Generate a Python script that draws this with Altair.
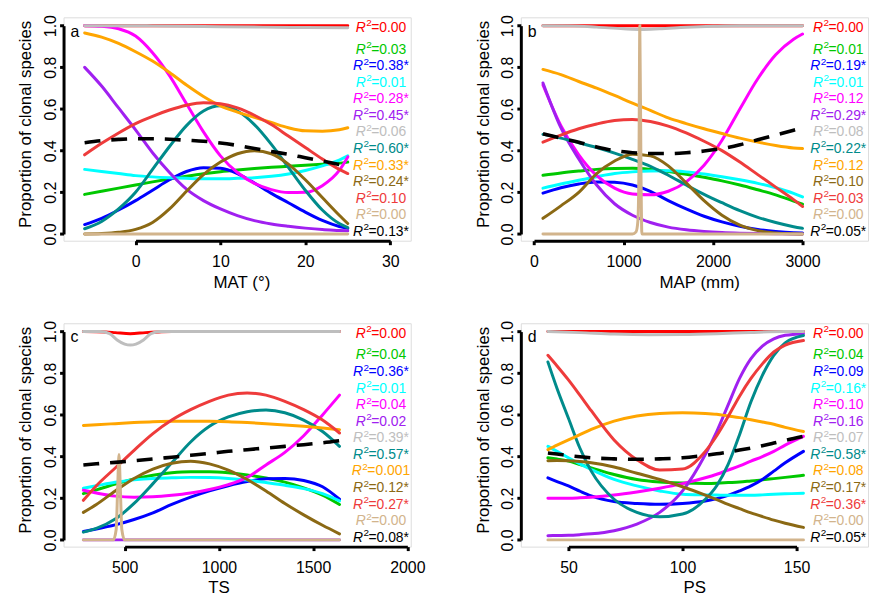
import altair as alt
import pandas as pd

FONT = "Liberation Sans"
PPY = 210.0          # px per unit of proportion
TOPM = 8.4           # px of view above y = 1
BOTM = 6.8           # px of view below y = 0 (x-axis line sits at the view bottom)
H = TOPM + PPY + BOTM
W = 350
AXW = 3              # axis line width

SERIES = [f"s{i:02d}" for i in range(1, 14)]
COLORS = ["#FF0000", "#00C800", "#0000FF", "#00FFFF", "#FF00FF", "#A020F0",
          "#BEBEBE", "#008B8B", "#FFA500", "#8B6914", "#EE3B3B", "#D2B48C", "#000000"]
Y_TICKS = [0.0, 0.2, 0.4, 0.6, 0.8, 1.0]

# ---------------- panel a : MAT ----------------
A_X = [-6, -4, -2, 0, 2, 4, 6, 8, 10, 12, 14, 16, 18, 20, 22, 24, 25]
A_GREEN = [0.19, 0.205, 0.22, 0.235, 0.25, 0.264, 0.277, 0.289, 0.299, 0.307, 0.314, 0.32, 0.325, 0.33, 0.335, 0.34, 0.345]
A_BLUE = [0.045, 0.075, 0.115, 0.16, 0.21, 0.26, 0.30, 0.318, 0.315, 0.29, 0.245, 0.195, 0.15, 0.105, 0.065, 0.036, 0.027]
A_CYAN = [0.31, 0.30, 0.29, 0.28, 0.274, 0.27, 0.267, 0.265, 0.265, 0.267, 0.27, 0.277, 0.288, 0.305, 0.327, 0.355, 0.375]
A_MAGENTA = [1.0, 0.997, 0.985, 0.95, 0.87, 0.76, 0.625, 0.49, 0.375, 0.295, 0.243, 0.213, 0.199, 0.2, 0.232, 0.305, 0.37]
A_PURPLE = [0.80, 0.71, 0.605, 0.50, 0.39, 0.295, 0.215, 0.16, 0.12, 0.088, 0.064, 0.048, 0.037, 0.028, 0.021, 0.017, 0.015]
A_TEAL = [0.025, 0.06, 0.12, 0.2, 0.31, 0.42, 0.52, 0.59, 0.615, 0.59, 0.525, 0.43, 0.32, 0.21, 0.115, 0.05, 0.03]
A_ORANGE = [0.965, 0.945, 0.915, 0.875, 0.83, 0.775, 0.715, 0.66, 0.615, 0.585, 0.56, 0.535, 0.51, 0.495, 0.493, 0.5, 0.51]
A_BROWN = [0.0, 0.002, 0.008, 0.022, 0.055, 0.12, 0.205, 0.285, 0.345, 0.385, 0.40, 0.385, 0.335, 0.26, 0.175, 0.09, 0.05]
A_RED2 = [0.38, 0.435, 0.485, 0.53, 0.565, 0.595, 0.618, 0.63, 0.625, 0.605, 0.57, 0.525, 0.47, 0.415, 0.36, 0.31, 0.29]
A_BLACK = [0.438, 0.448, 0.454, 0.457, 0.457, 0.455, 0.45, 0.445, 0.437, 0.425, 0.41, 0.396, 0.382, 0.366, 0.35, 0.334, 0.326]
A_TOP_X = [-6, 25]
A_TOP = [1.0, 1.0]
A_GRAY_X = [-6, 0, 2, 6, 10, 15, 20, 25]
A_GRAY = [1.0, 1.0, 0.999, 0.997, 0.995, 0.993, 0.991, 0.99]
A_TAN_X = [-6, 25]
A_TAN = [0.0, 0.0]
A_R2 = ["0.00", "0.03", "0.38*", "0.01", "0.28*", "0.45*", "0.06", "0.60*", "0.33*", "0.24*", "0.10", "0.00", "0.13*"]

# ---------------- panel b : MAP ----------------
B_X = [100, 300, 500, 700, 900, 1100, 1300, 1500, 1700, 1900, 2100, 2300, 2500, 2700, 2900, 3000]
B_GREEN = [0.282, 0.293, 0.302, 0.31, 0.314, 0.315, 0.31, 0.30, 0.287, 0.272, 0.255, 0.235, 0.212, 0.188, 0.158, 0.143]
B_BLUE = [0.196, 0.222, 0.24, 0.25, 0.248, 0.235, 0.205, 0.16, 0.12, 0.085, 0.058, 0.037, 0.022, 0.012, 0.006, 0.005]
B_CYAN = [0.22, 0.24, 0.258, 0.275, 0.29, 0.298, 0.302, 0.303, 0.298, 0.288, 0.275, 0.26, 0.243, 0.222, 0.195, 0.178]
B_MAGENTA = [0.715, 0.52, 0.38, 0.28, 0.22, 0.192, 0.188, 0.205, 0.25, 0.33, 0.45, 0.6, 0.745, 0.86, 0.935, 0.96]
B_PURPLE = [0.725, 0.51, 0.36, 0.235, 0.145, 0.09, 0.055, 0.033, 0.02, 0.012, 0.007, 0.004, 0.002, 0.001, 0.0, 0.0]
B_TEAL = [0.478, 0.46, 0.438, 0.415, 0.388, 0.358, 0.325, 0.282, 0.235, 0.19, 0.15, 0.112, 0.08, 0.055, 0.035, 0.027]
B_ORANGE = [0.79, 0.765, 0.732, 0.7, 0.665, 0.628, 0.593, 0.557, 0.53, 0.505, 0.482, 0.46, 0.441, 0.425, 0.413, 0.41]
B_BROWN = [0.075, 0.135, 0.2, 0.29, 0.35, 0.383, 0.375, 0.327, 0.245, 0.16, 0.09, 0.042, 0.016, 0.005, 0.001, 0.0]
B_RED2 = [0.441, 0.475, 0.505, 0.528, 0.545, 0.55, 0.54, 0.518, 0.485, 0.445, 0.4, 0.345, 0.285, 0.225, 0.165, 0.132]
B_BLACK = [0.481, 0.46, 0.44, 0.418, 0.4, 0.39, 0.386, 0.386, 0.39, 0.398, 0.41, 0.428, 0.452, 0.475, 0.498, 0.51]
B_TOP_X = [100, 3000]
B_TOP = [1.0, 1.0]
B_GRAY_X = [100, 400, 700, 1000, 1200, 1400, 1700, 2000, 2300, 3000]
B_GRAY = [1.0, 0.999, 0.993, 0.985, 0.982, 0.985, 0.992, 0.997, 1.0, 1.0]
B_TAN_X = [100, 1100, 1140, 1160, 1172, 1182, 1195, 1205, 3000]
B_TAN = [0.0, 0.0, 0.01, 0.06, 0.3, 1.0, 0.3, 0.0, 0.0]
B_R2 = ["0.00", "0.01", "0.19*", "0.01", "0.12", "0.29*", "0.08", "0.22*", "0.12", "0.10", "0.03", "0.00", "0.05*"]

# ---------------- panel c : TS ----------------
C_X = [281, 350, 450, 550, 650, 750, 850, 950, 1050, 1150, 1250, 1350, 1450, 1550, 1640]
C_GREEN = [0.222, 0.24, 0.268, 0.292, 0.31, 0.322, 0.327, 0.327, 0.322, 0.312, 0.297, 0.277, 0.25, 0.215, 0.17]
C_BLUE = [0.04, 0.052, 0.072, 0.098, 0.13, 0.17, 0.205, 0.235, 0.26, 0.28, 0.293, 0.295, 0.285, 0.255, 0.195]
C_CYAN = [0.248, 0.26, 0.277, 0.288, 0.295, 0.298, 0.3, 0.299, 0.295, 0.287, 0.275, 0.262, 0.246, 0.222, 0.187]
C_MAGENTA = [0.238, 0.225, 0.21, 0.205, 0.207, 0.214, 0.225, 0.242, 0.265, 0.3, 0.36, 0.42, 0.5, 0.6, 0.695]
C_PURPLE = [0.0] * 15
C_TEAL = [0.037, 0.055, 0.1, 0.175, 0.27, 0.37, 0.47, 0.545, 0.59, 0.615, 0.623, 0.61, 0.575, 0.52, 0.449]
C_ORANGE = [0.549, 0.553, 0.558, 0.563, 0.567, 0.569, 0.57, 0.569, 0.567, 0.563, 0.558, 0.552, 0.545, 0.537, 0.529]
C_BROWN = [0.132, 0.17, 0.235, 0.295, 0.34, 0.368, 0.378, 0.365, 0.335, 0.29, 0.235, 0.175, 0.12, 0.07, 0.029]
C_RED2 = [0.19, 0.26, 0.345, 0.43, 0.51, 0.575, 0.625, 0.665, 0.695, 0.705, 0.695, 0.665, 0.625, 0.575, 0.513]
C_BLACK = [0.359, 0.365, 0.372, 0.38, 0.388, 0.397, 0.406, 0.415, 0.425, 0.433, 0.441, 0.449, 0.457, 0.466, 0.476]
C_TOP_X = [281, 400, 450, 530, 610, 680, 750, 1640]
C_TOP = [1.0, 0.998, 0.995, 0.99, 0.995, 0.998, 1.0, 1.0]
C_GRAY_X = [281, 370, 420, 460, 500, 530, 560, 600, 640, 690, 1640]
C_GRAY = [1.0, 1.0, 0.99, 0.96, 0.94, 0.935, 0.94, 0.96, 0.99, 1.0, 1.0]
C_TAN_X = [281, 440, 455, 463, 470, 477, 485, 500, 1640]
C_TAN = [0.0, 0.0, 0.05, 0.25, 0.41, 0.25, 0.05, 0.0, 0.0]
C_R2 = ["0.00", "0.04", "0.36*", "0.01", "0.04", "0.02", "0.39*", "0.57*", "0.001", "0.12*", "0.27*", "0.00", "0.08*"]

# ---------------- panel d : PS ----------------
D_X = [41, 45, 50, 55, 60, 70, 80, 90, 100, 110, 115, 120, 125, 130, 135, 140, 145, 153]
D_GREEN = [0.394, 0.388, 0.378, 0.362, 0.346, 0.314, 0.29, 0.278, 0.273, 0.271, 0.272, 0.275, 0.278, 0.283, 0.288, 0.294, 0.3, 0.31]
D_BLUE = [0.298, 0.28, 0.259, 0.234, 0.211, 0.184, 0.175, 0.171, 0.175, 0.187, 0.198, 0.214, 0.235, 0.259, 0.29, 0.33, 0.37, 0.425]
D_CYAN = [0.449, 0.425, 0.394, 0.365, 0.338, 0.29, 0.259, 0.235, 0.219, 0.216, 0.215, 0.214, 0.214, 0.214, 0.216, 0.219, 0.221, 0.224]
D_MAGENTA = [0.2, 0.2, 0.2, 0.202, 0.205, 0.215, 0.23, 0.248, 0.27, 0.298, 0.315, 0.335, 0.355, 0.378, 0.4, 0.425, 0.455, 0.497]
D_PURPLE = [0.02, 0.021, 0.022, 0.025, 0.029, 0.044, 0.076, 0.132, 0.235, 0.41, 0.52, 0.648, 0.775, 0.87, 0.93, 0.965, 0.982, 0.99]
D_TEAL = [0.854, 0.727, 0.584, 0.441, 0.33, 0.195, 0.132, 0.111, 0.124, 0.195, 0.26, 0.362, 0.505, 0.663, 0.79, 0.886, 0.946, 0.981]
D_ORANGE = [0.433, 0.455, 0.48, 0.505, 0.53, 0.57, 0.595, 0.607, 0.61, 0.607, 0.603, 0.595, 0.587, 0.577, 0.566, 0.555, 0.54, 0.52]
D_BROWN = [0.38, 0.381, 0.38, 0.376, 0.37, 0.35, 0.32, 0.29, 0.255, 0.215, 0.193, 0.17, 0.15, 0.13, 0.112, 0.095, 0.08, 0.06]
D_RED2 = [0.886, 0.835, 0.768, 0.695, 0.62, 0.48, 0.385, 0.335, 0.34, 0.425, 0.5, 0.592, 0.69, 0.775, 0.845, 0.902, 0.935, 0.957]
D_BLACK = [0.417, 0.412, 0.405, 0.399, 0.394, 0.389, 0.387, 0.389, 0.394, 0.406, 0.413, 0.422, 0.431, 0.441, 0.452, 0.465, 0.478, 0.497]
D_TOP_X = [41, 153]
D_TOP = [1.0, 1.0]
D_GRAY_X = [41, 55, 70, 85, 100, 115, 130, 145, 153]
D_GRAY = [1.0, 0.995, 0.988, 0.985, 0.986, 0.99, 0.996, 1.0, 1.0]
D_TAN_X = [41, 153]
D_TAN = [0.0, 0.0]
D_R2 = ["0.00", "0.04", "0.09", "0.16*", "0.10", "0.16", "0.07", "0.58*", "0.08", "0.17*", "0.36*", "0.00", "0.05*"]

# ---------------- layout helpers ----------------
EM = {".": 0.278, "=": 0.584, "*": 0.389}
LAB_FS = 14
SUP_FS = 10
LAB_CX = 320            # label column centre, px right of the y-axis
LAB_Y = [0.99] + [0.885 - 0.0795 * i for i in range(12)]


def panel(curves, r2, x0, ppu, ticks, xtitle, title_px, letter):
    # x scale: tick span mapped to its pixel span, so the axis line covers only the ticks (R style)
    sx = alt.Scale(domain=[ticks[0], ticks[-1]],
                   range=[(ticks[0] - x0) * ppu, (ticks[-1] - x0) * ppu],
                   nice=False, zero=False)
    sy = alt.Scale(domain=[0, 1], range=[H - BOTM, TOPM], nice=False, zero=False)
    xaxis = alt.Axis(values=ticks, format="d", title=xtitle, grid=False,
                     domain=True, domainColor="black", domainWidth=AXW,
                     ticks=True, tickColor="black", tickWidth=AXW, tickSize=4,
                     labelPadding=17, labelBaseline="middle",
                     labelFontSize=16, labelFlush=False, labelOverlap=False,
                     labelColor="black", titleColor="black", titleFontSize=17,
                     titleFontWeight="normal", titleX=title_px, titleY=41.7,
                     titleAlign="center", titleBaseline="middle")
    yaxis = alt.Axis(values=Y_TICKS, format=".1f", title="Proportion of clonal species",
                     grid=False, domain=True, domainColor="black", domainWidth=AXW,
                     ticks=True, tickColor="black", tickWidth=AXW, tickSize=4,
                     labelAngle=270, labelAlign="center", labelBaseline="middle",
                     labelPadding=9, labelFontSize=16, labelFlush=False, labelOverlap=False,
                     labelColor="black", titleColor="black", titleFontSize=17,
                     titleFontWeight="normal", titleAngle=270, titleX=-38, titleY=107.4,
                     titleAlign="center", titleBaseline="middle")
    X = alt.X("x:Q", scale=sx, axis=xaxis)
    Y = alt.Y("y:Q", scale=sy, axis=yaxis)
    col = alt.Color("s:N", scale=alt.Scale(domain=SERIES, range=COLORS), legend=None)

    layers = []
    for i, (xs, ys) in enumerate(curves):
        dfi = pd.DataFrame({"x": xs, "y": ys})
        if i == 12:
            m = alt.Chart(dfi).mark_line(strokeWidth=3.6, interpolate="monotone",
                                         strokeDash=[16, 11], color=COLORS[i])
        else:
            m = alt.Chart(dfi).mark_line(strokeWidth=3, interpolate="monotone",
                                         strokeCap="round", color=COLORS[i])
        layers.append(m.encode(x=X, y=Y))

    lab = []
    for i, (name, v) in enumerate(zip(SERIES, r2)):
        rest = "=" + v
        wR = 0.722 * LAB_FS
        w2 = 0.556 * SUP_FS
        wRest = sum(EM.get(c, 0.556) for c in rest) * LAB_FS
        left = LAB_CX - (wR + w2 + wRest) / 2
        lab.append({"x": x0 + left / ppu, "y": LAB_Y[i], "s": name, "t": "R", "k": "R"})
        lab.append({"x": x0 + (left + wR) / ppu, "y": LAB_Y[i], "s": name, "t": "2", "k": "2"})
        lab.append({"x": x0 + (left + wR + w2) / ppu, "y": LAB_Y[i], "s": name, "t": rest, "k": "v"})
    ldf = pd.DataFrame(lab)
    tR = alt.Chart(ldf[ldf.k == "R"]).mark_text(
        align="left", baseline="middle", fontSize=LAB_FS, fontStyle="italic"
    ).encode(x=X, y=Y, text="t:N", color=col)
    t2 = alt.Chart(ldf[ldf.k == "2"]).mark_text(
        align="left", baseline="middle", fontSize=SUP_FS, dy=-4.5, dx=0.5
    ).encode(x=X, y=Y, text="t:N", color=col)
    tV = alt.Chart(ldf[ldf.k == "v"]).mark_text(
        align="left", baseline="middle", fontSize=LAB_FS
    ).encode(x=X, y=Y, text="t:N", color=col)
    let = alt.Chart(pd.DataFrame({"x": [x0], "y": [1.0], "t": [letter]})).mark_text(
        align="left", baseline="middle", dx=7, dy=6, fontSize=16, color="black"
    ).encode(x=X, y=Y, text="t:N")
    layers += [tR, t2, tV, let]

    return alt.layer(*layers).properties(width=W, height=H)


def curves(top_x, top, x, g, b, c, m, p, gray_x, gray, t, o, br, r2, tan_x, tan, k):
    return [(top_x, top), (x, g), (x, b), (x, c), (x, m), (x, p), (gray_x, gray),
            (x, t), (x, o), (x, br), (x, r2), (tan_x, tan), (x, k)]


pa = panel(curves(A_TOP_X, A_TOP, A_X, A_GREEN, A_BLUE, A_CYAN, A_MAGENTA, A_PURPLE,
                  A_GRAY_X, A_GRAY, A_TEAL, A_ORANGE, A_BROWN, A_RED2, A_TAN_X, A_TAN, A_BLACK),
           A_R2, -8.484, 8.557, [0, 10, 20, 30], "MAT (\u00b0)", 179.3, "a")
pb = panel(curves(B_TOP_X, B_TOP, B_X, B_GREEN, B_BLUE, B_CYAN, B_MAGENTA, B_PURPLE,
                  B_GRAY_X, B_GRAY, B_TEAL, B_ORANGE, B_BROWN, B_RED2, B_TAN_X, B_TAN, B_BLACK),
           B_R2, -147.4, 0.09023, [0, 1000, 2000, 3000], "MAP (mm)", 179.8, "b")
pc = panel(curves(C_TOP_X, C_TOP, C_X, C_GREEN, C_BLUE, C_CYAN, C_MAGENTA, C_PURPLE,
                  C_GRAY_X, C_GRAY, C_TEAL, C_ORANGE, C_BROWN, C_RED2, C_TAN_X, C_TAN, C_BLACK),
           C_R2, 175.8, 0.19, [500, 1000, 1500, 2000], "TS", 156.3, "c")
pd_ = panel(curves(D_TOP_X, D_TOP, D_X, D_GREEN, D_BLUE, D_CYAN, D_MAGENTA, D_PURPLE,
                   D_GRAY_X, D_GRAY, D_TEAL, D_ORANGE, D_BROWN, D_RED2, D_TAN_X, D_TAN, D_BLACK),
            D_R2, 29.13, 2.3, [50, 100, 150], "PS", 174.8, "d")

chart = alt.concat(pa, pb, pc, pd_, columns=2, spacing={"row": 82.4, "column": 111},
                   bounds="flush").properties(
    padding={"left": 8, "top": 3, "right": 0, "bottom": 0}
).configure_view(stroke=None).configure(font=FONT)

chart.save("out.html", embed_options={"renderer": "svg", "actions": False})
